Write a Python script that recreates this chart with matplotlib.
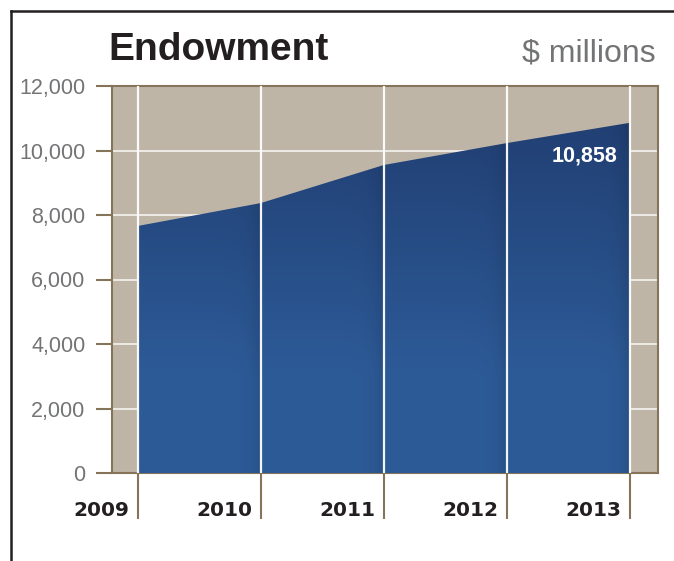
import numpy as np
import matplotlib
matplotlib.use("Agg")
import matplotlib.pyplot as plt
from matplotlib.lines import Line2D

years = [2009, 2010, 2011, 2012, 2013]
endowment = [7660, 8370, 9550, 10230, 10858]
yticks = [0, 2000, 4000, 6000, 8000, 10000, 12000]
ytick_labels = ["0", "2,000", "4,000", "6,000", "8,000", "10,000", "12,000"]
title = "Endowment"
unit = "$ millions"
last_label = "10,858"

BEIGE = "#BFB5A7"
BROWN = "#85745A"
GRAY = "#737476"

fig = plt.figure(figsize=(6.74, 5.61), dpi=100)
W, H = 674, 561
ax = fig.add_axes([112 / W, 1 - 473 / H, (658 - 112) / W, (473 - 86) / H])
ax.set_facecolor(BEIGE)
ax.set_xlim(2008.79, 2013.23)
ax.set_ylim(0, 12000)

# horizontal gridlines (behind the area)
for yv in yticks[1:-1]:
    ax.axhline(yv, color="white", lw=1.2, alpha=0.85, zorder=1)

# area with gradient, clipped to the filled polygon
poly = ax.fill_between(years, endowment, 0, color="#2A5290", lw=0, zorder=2)
nx, ny = 500, 300
gx = np.linspace(years[0], years[-1], nx)
gy = np.linspace(0, 12000, ny)
X, Y = np.meshgrid(gx, gy)
top = np.array([0x21, 0x3F, 0x73]) / 255
bot = np.array([0x2D, 0x5B, 0x98]) / 255
t = np.clip((Y - 3000) / 8000, 0, 1)[..., None]
img = bot * (1 - t) + top * t
# soft shadow just left of each year line
frac = (X - years[0]) % 1.0
shade = np.exp(-(1 - frac) / 0.07) * 0.13
shade[X >= years[-1] - 1e-9] = 0.13
img = img * (1 - shade[..., None])
im = ax.imshow(img, extent=(years[0], years[-1], 0, 12000), origin="lower",
               aspect="auto", zorder=3, interpolation="bilinear")
im.set_clip_path(poly.get_paths()[0], transform=ax.transData)
poly.set_visible(False)

# vertical year lines on top
for xv in years:
    ax.axvline(xv, color="white", lw=1.6, alpha=0.95, zorder=4)

for s in ax.spines.values():
    s.set_color(BROWN)
    s.set_linewidth(1.5)

ax.set_yticks(yticks)
ax.set_yticklabels(ytick_labels, fontfamily="Liberation Sans", fontsize=15.5, color=GRAY)
ax.tick_params(axis="y", length=11.5, width=1.5, color=BROWN, pad=7.5, direction="out")
ax.set_xticks(years)
ax.set_xticklabels([])
ax.tick_params(axis="x", length=33, width=1.5, color=BROWN, direction="out")

for xv in years:
    ax.annotate(str(xv), xy=(xv, 0), xycoords=("data", "axes fraction"),
                xytext=(-6, -27), textcoords="offset points",
                ha="right", va="center", fontsize=14.5, fontweight="heavy",
                fontfamily="DejaVu Sans", color="#231F20")

ax.annotate(last_label, xy=(years[-1], endowment[-1]), xytext=(-9, -24),
            textcoords="offset points", ha="right", va="center",
            fontsize=15.5, fontweight="bold", fontfamily="Liberation Sans",
            color="white", zorder=6)

fig.text(108 / W, 1 - 60 / H, title, fontsize=28, fontweight="bold",
         fontfamily="Liberation Sans", color="#231F20", ha="left", va="baseline")
fig.text(656 / W, 1 - 61 / H, unit, fontsize=23, fontfamily="Liberation Sans",
         color=GRAY, ha="right", va="baseline")

# outer frame (left and top)
fig.add_artist(Line2D([10.5 / W, 10.5 / W], [0, 1 - 11 / H], color="#231F20", lw=1.8,
                      transform=fig.transFigure))
fig.add_artist(Line2D([10.5 / W, 1], [1 - 11 / H, 1 - 11 / H], color="#231F20", lw=1.8,
                      transform=fig.transFigure))

fig.savefig("out.png", dpi=100)
